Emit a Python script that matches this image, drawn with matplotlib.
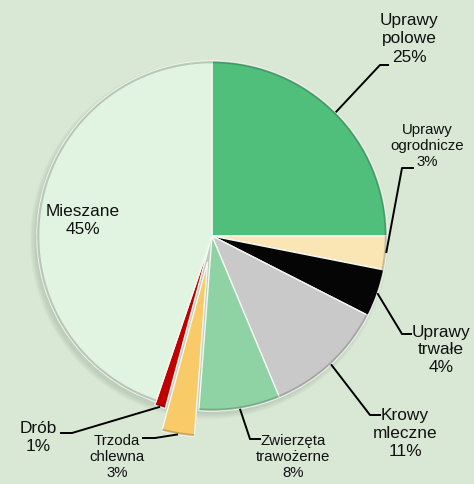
import matplotlib
matplotlib.use("Agg")
import matplotlib.pyplot as plt
import numpy as np

# ---- data ----
categories = ["Uprawy\npolowe", "Uprawy\nogrodnicze", "Uprawy\ntrwałe", "Krowy\nmleczne",
              "Zwierzęta\ntrawożerne", "Trzoda\nchlewna", "Drób", "Mieszane"]
shares = [25.0, 3.1, 4.4, 11.2, 7.5, 3.0, 1.0, 44.8]
colors = ["#4fbf7b", "#f9e6b4", "#050505", "#c9c9c9", "#8fd3a5", "#f9cb68", "#c00000", "#e1f4e1"]
explode_frac = [0, 0, 0, 0, 0, 0.15, 0.02, 0]

# ---- layout (image pixel coordinates) ----
W, H = 474, 485
bg = "#d8e8d4"
CX, CY, R = 212, 237, 175
BIG, SMALL = 12.4, 10.8
# (text x, text y, font size, elbow x, elbow y, end x) ; None -> inside label
layout = [
    (409, 39, BIG, 380, 66, 389),
    (427, 146, SMALL, 402, 169, 414),
    (441, 350, BIG, 402, 335, 412),
    (405, 434, BIG, 370, 416, 381),
    (293, 457, SMALL, 250, 440, 261),
    (117, 457, SMALL, 155, 439, 142),
    (38, 438, BIG, 72, 434, 60),
    (83, 221, BIG, None, None, None),
]

plt.rcParams['font.family'] = ['Liberation Sans', 'DejaVu Sans']

fig = plt.figure(figsize=(W / 100, H / 100), dpi=100, facecolor=bg)
ax = fig.add_axes([0, 0, 1, 1])
ax.set_facecolor(bg)

def Y(y):
    return H - y

# soft shadow
for k in range(6):
    sh = plt.Circle((CX - 3, Y(CY) - 4), R + 4 - k, color="#7f947f", alpha=0.05, lw=0, zorder=0)
    ax.add_patch(sh)

wedges, _ = ax.pie(shares, colors=colors, startangle=90, counterclock=False,
                   center=(CX, Y(CY)), radius=R, explode=[e * R for e in explode_frac],
                   wedgeprops=dict(edgecolor="#f4f8f2", linewidth=1.0))
for w in wedges:
    w.set_zorder(2)

# rim
for w in wedges:
    th1, th2 = np.deg2rad(w.theta1), np.deg2rad(w.theta2)
    t = np.linspace(th1, th2, 60)
    cx, cy = w.center
    ax.plot(cx + (w.r - 1.2) * np.cos(t), cy + (w.r - 1.2) * np.sin(t),
            color="#000000", alpha=0.18, lw=1.6, zorder=3, solid_capstyle="butt")

for w, lab, val, (tx, ty, fs, ex, ey, endx) in zip(wedges, categories, shares, layout):
    text = f"{lab}\n{round(val)}%"
    ls = 1.25 if fs > 12 else 1.15
    ax.text(tx, Y(ty), text, ha="center", va="center", fontsize=fs,
            color="#111111", linespacing=ls, zorder=5)
    if ex is not None:
        th = np.deg2rad((w.theta1 + w.theta2) / 2)
        cx, cy = w.center
        sx, sy = cx + w.r * np.cos(th), cy + w.r * np.sin(th)
        ax.plot([sx, ex, endx], [sy, Y(ey), Y(ey)], color="black", lw=1.4,
                zorder=4, solid_capstyle="butt")

ax.set_xlim(0, W)
ax.set_ylim(0, H)
ax.set_aspect("equal")
ax.axis("off")
fig.savefig("out.png", dpi=100, facecolor=bg)
